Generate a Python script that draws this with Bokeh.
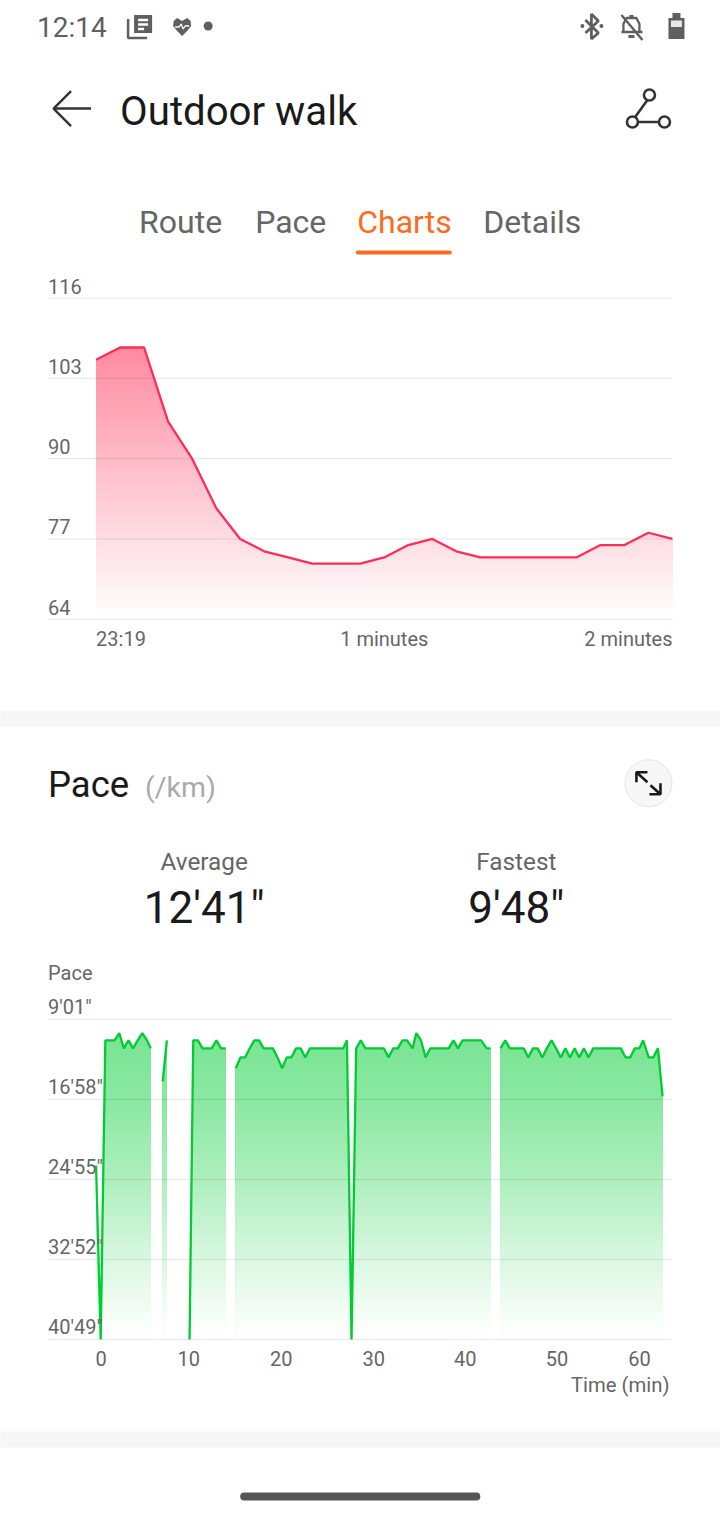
from bokeh.plotting import figure
from bokeh.models import Range1d, ColumnDataSource
from bokeh.core.properties import value
from bokeh.embed import file_html
from bokeh.resources import INLINE
import numpy as np

# ---------- data ----------
hr_seconds = [0, 5, 10, 15, 20, 25, 30, 35, 40, 45, 50, 55, 60, 65, 70, 75, 80, 85, 90, 95, 100, 105, 110, 115, 120]
hr_values = [106, 108, 108, 96, 90, 82, 77, 75, 74, 73, 73, 73, 74, 76, 77, 75, 74, 74, 74, 74, 74, 76, 76, 78, 77]
hr_ticks = [116, 103, 90, 77, 64]
hr_xticks = [0, 60, 120]
hr_xlabels = ["23:19", "1 minutes", "2 minutes"]

pace_seg1_t = [0, 0.5, 1, 1.5, 2, 2.5, 3, 3.5, 4, 4.5, 5, 5.5, 5.9]
pace_seg1_s = [1412, 2449, 666, 666, 666, 623, 714, 666, 714, 666, 623, 666, 714]
pace_seg2_t = [7.2, 7.65]
pace_seg2_s = [911, 666]
pace_seg3_t = [10.1, 10.5, 11, 11.5, 12, 12.5, 13, 13.5, 14]
pace_seg3_s = [2449, 666, 666, 714, 714, 714, 666, 714, 714]
pace_seg4_t = [15.1, 15.6, 16.1, 16.6, 17.1, 17.6, 18.1, 19.1, 19.6, 20.1, 20.6, 21.1, 21.6, 22.1, 22.6, 23.1,
               26.7, 27.1, 27.6, 28.1, 28.6, 29.1, 31.1, 31.6, 32.1, 32.6, 33.1, 33.6, 34.2, 34.6, 35.1, 35.6, 36.1,
               38.1, 38.6, 39.1, 39.6, 41.6, 42.2, 42.6]
pace_seg4_s = [833, 768, 768, 714, 666, 666, 714, 714, 768, 833, 768, 768, 714, 714, 768, 714,
               714, 666, 2449, 714, 666, 714, 714, 768, 714, 714, 666, 666, 714, 623, 666, 768, 714,
               714, 666, 714, 666, 666, 714, 714]
pace_seg5_t = [43.7, 44.2, 44.7, 46.2, 46.7, 47.2, 47.7, 48.2, 48.7, 49.2, 49.7, 50.2, 50.7, 51.2, 51.7, 52.2, 52.7,
               53.2, 53.7, 56.7, 57.2, 57.7, 58.2, 58.7, 59.1, 59.7, 60.2, 60.7, 61.2]
pace_seg5_s = [714, 666, 714, 714, 768, 714, 714, 768, 714, 666, 714, 768, 714, 768, 714, 768, 714,
               768, 714, 714, 768, 768, 714, 714, 666, 768, 768, 714, 1000]
pace_ticks = [541, 1018, 1495, 1972, 2449]
pace_ticklabels = ["9'01\"", "16'58\"", "24'55\"", "32'52\"", "40'49\""]
pace_xticks = [0, 10, 20, 30, 40, 50, 60]
pace_xoffsets = [5, 0, 0, 0, -1, -2, -12]

TAB_LABELS = ["Route", "Pace", "Charts", "Details"]
FONT = value("Roboto")
GREY = "#666666"
DARK = "#1a1a1a"
ICON = "#5f5f5f"
ORANGE = "#ff6a21"
PINK = (255, 45, 85)
GREEN = (0, 204, 51)

# one page-sized figure; each chart has its own scales, aligned to the page
W, H = 720, 1520
F0 = 0.5  # small correction for where the plot frame starts in the figure
HR_PX_S, HR_PX_V = 4.8, 80.25 / 13
P_PX_T, P_PX_S = 9.25, 80 / 477
p = figure(width=W, height=H, x_range=Range1d(F0, W), y_range=Range1d(H, F0),
           output_backend="svg", toolbar_location=None,
           min_border=0, min_border_left=0, min_border_right=0, min_border_top=0, min_border_bottom=0)
p.extra_x_ranges = {"hr": Range1d((F0 - 96) / HR_PX_S, (W - 96) / HR_PX_S),
                    "pace": Range1d((F0 - 96) / P_PX_T, (W - 96) / P_PX_T)}
p.extra_y_ranges = {"hr": Range1d(64 - (H - 619) / HR_PX_V, 116 + (298 - F0) / HR_PX_V),
                    "pace": Range1d(2449 + (H - 1339) / P_PX_S, 541 - (1019 - F0) / P_PX_S)}
p.axis.visible = False
p.grid.visible = False
p.outline_line_color = None


def hexmix(rgb, a):
    return "#%02x%02x%02x" % tuple(int(round(255 - (255 - c) * a)) for c in rgb)


def txt(x, y, s, size, color=GREY, align="left", baseline="alphabetic", xo=0, yo=0, r=None):
    kw = dict(x_range_name=r, y_range_name=r) if r else {}
    p.text(x=[x], y=[y], text=[s], text_font=FONT, text_font_size=value(f"{size}px"),
           text_color=color, text_align=align, text_baseline=baseline, x_offset=xo, y_offset=yo, **kw)


def gradient_area(t, v, rgb, top, bottom, fade_at, fade_alpha, bands, pad, r):
    """Area under a line with a vertical fade: stacked bands, then white above the line."""
    tops = np.linspace(top, bottom, bands, endpoint=False)
    alphas = np.interp(np.linspace(0, 1, bands), fade_at, fade_alpha)
    src = ColumnDataSource(dict(left=[t[0]] * bands, right=[t[-1]] * bands, top=tops,
                                bottom=[bottom] * bands, color=[hexmix(rgb, a) for a in alphas]))
    p.quad(left="left", right="right", top="top", bottom="bottom", fill_color="color",
           line_color=None, source=src, x_range_name=r, y_range_name=r)
    above = top + (top - bottom) * 0.02
    mx = [t[0] - pad] + list(t) + [t[-1] + pad]
    my = [v[0]] + list(v) + [v[-1]]
    p.varea(x=mx, y1=my, y2=[above] * len(mx), fill_color="#ffffff", x_range_name=r, y_range_name=r)


def grid(ticks, x0, x1, r):
    p.segment(x0=[x0] * len(ticks), x1=[x1] * len(ticks), y0=ticks, y1=ticks, line_color="#000000",
              line_alpha=0.105, line_width=1, x_range_name=r, y_range_name=r)


# ---------- header ----------
txt(37, 27, "12:14", 28, ICON, baseline="middle")
p.quad(left=[134], right=[152], top=[15], bottom=[33], fill_color=ICON, line_color=None)
p.multi_line([[128, 128, 147], [138, 148], [138, 148], [138, 144]], [[19, 38, 38], [20, 20], [24.5, 24.5], [29, 29]],
             line_color=[ICON, "#ffffff", "#ffffff", "#ffffff"], line_width=2.5)
p.patch([182, 177, 173, 173.5, 177, 182, 187, 190.5, 191, 187], [36, 31, 26, 21, 18, 21, 18, 21, 26, 31],
        fill_color=ICON, line_color=None)
p.line([175, 179, 181, 183, 185, 189], [27, 27, 24, 29, 26, 26], line_color="#ffffff", line_width=1.3)
p.scatter([208], [26], size=9, fill_color=ICON, line_color=None)
p.multi_line([[585, 598, 591, 591, 598, 585]], [[20, 33, 39, 14, 21, 33]], line_color=ICON, line_width=2.8)
p.scatter([582, 601], [26, 26], size=4, fill_color=ICON, line_color=None)
p.line([623, 623, 626, 636, 639, 639, 621, 642], [32, 24, 18, 18, 24, 32, 32, 32], line_color=ICON, line_width=2.3)
p.line([621, 642], [15, 40], line_color=ICON, line_width=2.4)
p.quad(left=[628], right=[634], top=[35], bottom=[38], fill_color=ICON, line_color=None)
p.quad(left=[629], right=[633], top=[15], bottom=[18], fill_color=ICON, line_color=None)
p.quad(left=[668], right=[684], top=[18], bottom=[39], fill_color=ICON, line_color=None)
p.quad(left=[672], right=[680], top=[13], bottom=[18], fill_color=ICON, line_color=None)
p.quad(left=[670.5], right=[681.5], top=[20.5], bottom=[27], fill_color="#e6e6e6", line_color=None)
p.multi_line([[91, 54], [71, 53.5, 71]], [[108.5, 108.5], [91, 108.5, 126]], line_color="#333333", line_width=2.4)
txt(120, 111, "Outdoor walk", 40.2, DARK, baseline="middle")
p.multi_line([[647, 634], [637, 659]], [[100, 118], [122, 122]], line_color="#333333", line_width=2.6)
p.scatter([649, 632, 664], [95, 122, 122], size=11, fill_color="#ffffff", line_color="#333333", line_width=2.6)
for label, x, col in zip(TAB_LABELS, [139, 255, 357, 483], [GREY, GREY, ORANGE, GREY]):
    txt(x, 222, label, 32, col, baseline="middle")
p.line([357.5, 449.5], [252.5, 252.5], line_color=ORANGE, line_width=4, line_cap="round")

# ---------- heart-rate chart ----------
gradient_area(hr_seconds, hr_values, PINK, 108.5, 64, [0, 1], [0.56, 0], 137, 0.4, "hr")
grid(hr_ticks, -10, 120, "hr")
p.line(hr_seconds, hr_values, line_color="#ff2d55", line_width=2.3, x_range_name="hr", y_range_name="hr")
for t in hr_ticks:
    txt(-10, t, str(t), 20, GREY, yo=-12, r="hr")
for x, l, a in zip(hr_xticks, hr_xlabels, ["left", "center", "right"]):
    txt(x, 64, l, 20, GREY, align=a, yo=19.5, r="hr")

# ---------- middle panel ----------
p.quad(left=[0, 0], right=[W, W], top=[711, 1431], bottom=[727, 1447], fill_color="#f6f6f6", line_color=None)
txt(48, 784.5, "Pace", 36.5, DARK, baseline="middle")
txt(145, 787, "(/km)", 28.5, "#aaaaaa", baseline="middle")
p.scatter([648], [783], size=47, fill_color="#f7f7f7", line_color="#e4e4e4", line_width=1)
p.multi_line([[636, 647], [647, 636, 636], [660, 650], [649, 660, 660]],
             [[772, 782], [772, 772, 782], [794, 785], [794, 794, 783]], line_color=DARK, line_width=2.6)
txt(204, 861, "Average", 24.3, GREY, align="center", baseline="middle")
txt(516, 861, "Fastest", 24.3, GREY, align="center", baseline="middle")
txt(204, 907.5, "12'41\"", 44, DARK, align="center", baseline="middle")
txt(516, 907.5, "9'48\"", 44, DARK, align="center", baseline="middle")

# ---------- pace chart ----------
segments = [(pace_seg1_t, pace_seg1_s), (pace_seg2_t, pace_seg2_s), (pace_seg3_t, pace_seg3_s),
            (pace_seg4_t, pace_seg4_s), (pace_seg5_t, pace_seg5_s)]
for st, ss in segments:
    gradient_area(st, ss, GREEN, 610, 2449, [0, 0.22, 0.48, 0.74, 0.94, 1], [0.53, 0.46, 0.32, 0.15, 0.03, 0],
                  154, 0.1, "pace")
tx0, tx1 = -48 / P_PX_T, 576 / P_PX_T
grid(pace_ticks, tx0, tx1, "pace")
for st, ss in segments:
    p.line(st, ss, line_color="#00cc33", line_width=2.3, x_range_name="pace", y_range_name="pace")
for t, l in zip(pace_ticks, pace_ticklabels):
    txt(tx0, t, l, 20, GREY, yo=-12, r="pace")
for x, o in zip(pace_xticks, pace_xoffsets):
    txt(x, 2449, str(x), 20, GREY, align="center", xo=o, yo=19.5, r="pace")
txt(tx0, 541, "Pace", 20, GREY, yo=-46.5, r="pace")
txt(tx1, 2449, "Time (min)", 20.3, GREY, align="right", xo=-3, yo=45.5, r="pace")

# ---------- footer ----------
p.line([244, 476], [1496, 1496], line_color="#555555", line_width=8, line_cap="round")

open("out.html", "w").write(file_html(p, INLINE))
